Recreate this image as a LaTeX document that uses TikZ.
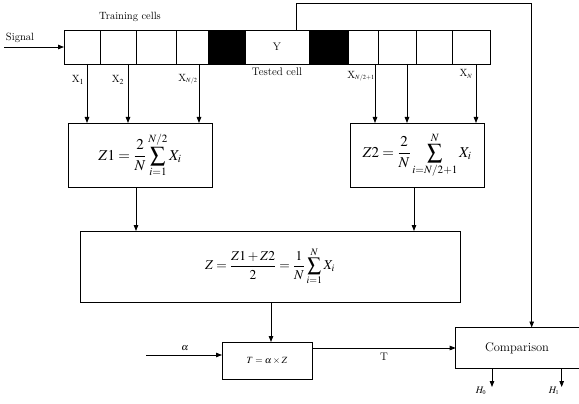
\documentclass[tikz,border=0pt]{standalone}
\usepackage{amsmath}
\usepackage{mathptmx}
\usetikzlibrary{arrows.meta,calc}
\begin{document}
\begin{tikzpicture}[x=1pt,y=-1pt,
  every node/.style={inner sep=0pt,outer sep=0pt},
  cell/.style={draw,line width=0.8pt,minimum height=34pt},
  bcell/.style={cell,fill=black},
  box/.style={draw,line width=0.8pt},
  arr/.style={-{Triangle[length=6pt,width=4.5pt]},line width=0.8pt},
  lbl/.style={font=\fontsize{10.5}{12}\selectfont}]
\useasboundingbox (0,0) rectangle (579,404);
% cells
\node[cell,minimum width=36pt] (c1) at (82,47) {};
\node[cell,minimum width=36pt] (c2) at (118,47) {};
\node[cell,minimum width=40pt] (c3) at (156,47) {};
\node[cell,minimum width=32pt] (c4) at (192,47) {};
\node[bcell,minimum width=37pt] (b1) at (226.5,47) {};
\node[cell,minimum width=64pt,font=\fontsize{11}{13}\selectfont] (yc) at (277,47) {Y};
\node[bcell,minimum width=39pt] (b2) at (328.5,47) {};
\node[cell,minimum width=30pt] (c5) at (363,47) {};
\node[cell,minimum width=38pt] (c6) at (397,47) {};
\node[cell,minimum width=36pt] (c7) at (434,47) {};
\node[cell,minimum width=38pt] (c8) at (471,47) {};
% labels
\node[lbl] (tr) at (130,17) {Training cells};
\node[lbl] (sig) at (20,38) {Signal};
\coordinate (sigs) at (4,47);
\draw[arr] (sigs) -- (c1.west);
\node[lbl,font=\fontsize{11}{13}\selectfont] (tc) at (277,72) {Tested cell};
\node[lbl] (x1) at (78,80) {X$_{1}$};
\node[lbl] (x2) at (118,80) {X$_{2}$};
\node[lbl] (xh) at (188,79) {X$_{\scriptscriptstyle N/2}$};
\node[lbl] (xh1) at (361,76) {X$_{\scriptscriptstyle N/2+1}$};
\node[lbl] (xn) at (466,74) {X$_{\scriptscriptstyle N}$};
% Z1, Z2 boxes
\node[box,minimum width=144pt,minimum height=64pt] (z1) at (140,155)
  {\fontsize{15}{17}\selectfont $Z1=\dfrac{2}{N}\displaystyle\sum_{i=1}^{N/2}X_{i}$};
\node[box,minimum width=134pt,minimum height=64pt] (z2) at (417,155)
  {\fontsize{15}{17}\selectfont $Z2=\dfrac{2}{N}\displaystyle\sum_{i=N/2+1}^{N}X_{i}$};
% arrows from cells
\coordinate (a1) at ($(c1.south)+(5,0)$);
\coordinate (a2) at ($(c2.south)+(10,0)$);
\coordinate (a3) at ($(c4.south)+(7,0)$);
\coordinate (a4) at ($(c5.south)+(12,0)$);
\coordinate (a5) at ($(c6.south)+(10,0)$);
\coordinate (a6) at ($(c8.south)+(5,0)$);
\foreach \a/\t in {a1/z1,a2/z1,a3/z1,a4/z2,a5/z2,a6/z2}
  \draw[arr] (\a) -- (\a |- \t.north);
% Z box
\node[box,minimum width=380pt,minimum height=71pt] (z) at (270,266.5)
  {\fontsize{13.5}{15}\selectfont $Z=\dfrac{Z1+Z2}{2}=\dfrac{1}{N}\displaystyle\sum_{i=1}^{N}X_{i}$};
\coordinate (zin1) at (136,187);
\coordinate (zin2) at (414,187);
\draw[arr] (zin1 |- z1.south) -- (zin1 |- z.north);
\draw[arr] (zin2 |- z2.south) -- (zin2 |- z.north);
% T box
\node[box,minimum width=90pt,minimum height=37pt,font=\fontsize{9.5}{11}\selectfont] (t) at (267,360.5) {$T=\alpha\times Z$};
\coordinate (zt) at (271,300);
\draw[arr] (zt |- z.south) -- (zt |- t.north);
\coordinate (al) at (146,355);
\draw[arr] (al) -- (al -| t.west);
\node[lbl,font=\fontsize{10}{12}\selectfont] (alab) at (185,348) {$\alpha$};
% Comparison
\node[box,minimum width=126pt,minimum height=41pt,anchor=west] (cmp) at (455.7,348) {};
\node[font=\fontsize{12.5}{14}\selectfont] (cmpt) at (517,348) {Comparison};
\coordinate (tout) at (312,348);
\draw[arr] (tout) -- (cmp.west);
\node[lbl,font=\fontsize{11}{13}\selectfont] (tlab) at (384,357) {T};
% feedback line
\coordinate (fb1) at (296,3);
\coordinate (fb2) at (531.7,3);
\draw[arr] (fb1 |- yc.north) -- (fb1) -- (fb2) -- (fb2 |- cmp.north);
% H outputs
\coordinate (h0) at (492,387);
\coordinate (h1) at (561.7,387);
\draw[arr] (h0 |- cmp.south) -- (h0);
\draw[arr] (h1 |- cmp.south) -- (h1);
\node[lbl,font=\fontsize{10}{12}\selectfont] (h0l) at (481,391) {$H_{\scriptscriptstyle 0}$};
\node[lbl,font=\fontsize{10}{12}\selectfont] (h1l) at (554,391) {$H_{\scriptscriptstyle 1}$};
\end{tikzpicture}
\end{document}
